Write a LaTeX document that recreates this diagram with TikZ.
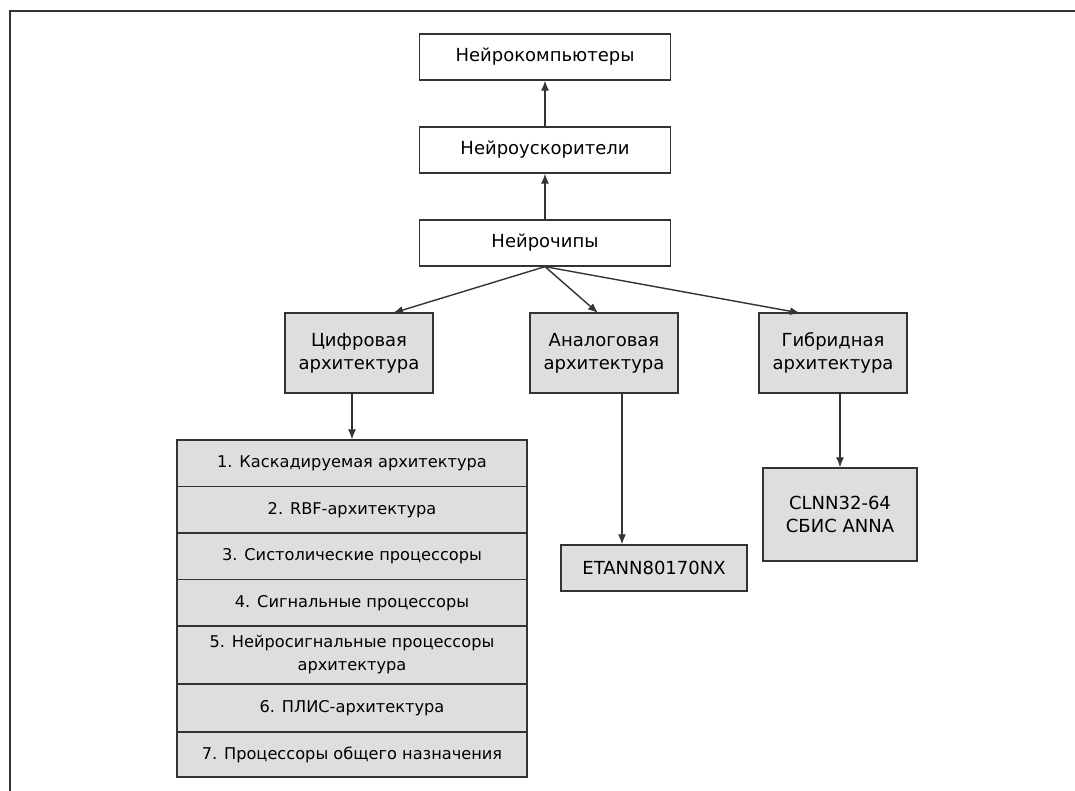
\documentclass[tikz,border=0pt]{standalone}
\usepackage{fontspec}
\setmainfont{DejaVu Sans}
\usetikzlibrary{arrows.meta}
\definecolor{boxgray}{HTML}{DEDEDE}
\definecolor{linegray}{HTML}{333333}

\begin{document}
\begin{tikzpicture}[
        x=1pt, y=-1pt,
        font=\fontsize{18}{23}\selectfont,
        level box/.style={
          draw=linegray, fill=white, line width=1.3pt,
          minimum width=251pt, minimum height=46pt, inner sep=0pt,
      },
        arch box/.style={
          draw=linegray, fill=boxgray, line width=1.3pt, align=center,
          minimum width=148pt, minimum height=80pt, inner sep=0pt,
      },
        list row/.style={
          draw=linegray, fill=boxgray, line width=1.3pt, align=center,
          minimum width=350pt, inner sep=0pt,
          font=\fontsize{16.2}{23}\selectfont,
      },
        up arrow/.style={
          draw=linegray, line width=1.4pt, -{Latex[length=10pt,width=8pt]},
      }]
      \useasboundingbox (0,0) rectangle (1075,791);
      \draw[linegray, line width=2pt] (10,791) -- (10,11) -- (1075,11);
      % top chain
      \node[level box] (comp) at (545,57) {Нейрокомпьютеры};
      \node[level box] (accel) at (545,150) {Нейроускорители};
      \node[level box] (chips) at (545,243) {Нейрочипы};
      \draw[up arrow] (accel) -- (comp);
      \draw[up arrow] (chips) -- (accel);
      % architectures
      \node[arch box] (digital) at (359,353) {Цифровая\\архитектура};
      \node[arch box] (analog) at (604,353) {Аналоговая\\архитектура};
      \node[arch box] (hybrid) at (833,353) {Гибридная\\архитектура};
      \draw[up arrow] (chips.south) -- (393,313);
      \draw[up arrow] (chips.south) -- (598,313);
      \draw[up arrow] (chips.south) -- (800,313);
      % digital list
      \node[list row, minimum height=47pt] (r1) at (352,463.5) {1. Каскадируемая архитектура};
      \node[list row, minimum height=47pt] (r2) at (352,510) {2. RBF-архитектура};
      \node[list row, minimum height=47pt] (r3) at (352,556.5) {3. Систолические процессоры};
      \node[list row, minimum height=47pt] (r4) at (352,603) {4. Сигнальные процессоры};
      \node[list row, minimum height=58pt] (r5) at (352,655) {5. Нейросигнальные процессоры\\архитектура};
      \node[list row, minimum height=48pt] (r6) at (352,708) {6. ПЛИС-архитектура};
      \node[list row, minimum height=45pt] (r7) at (352,754.5) {7. Процессоры общего назначения};
      \draw[up arrow] (digital.south -| r1.north) -- (r1.north);
      % analog and hybrid chips
      \node[arch box, minimum width=186pt, minimum height=46pt] (etann) at (654,568) {ETANN80170NX};
      \node[arch box, minimum width=154pt, minimum height=93pt] (clnn) at (840,514.5) {CLNN32-64\\СБИС ANNA};
      \coordinate (analog drop) at (622,0);
      \draw[up arrow] (analog.south -| analog drop) -- (etann.north -| analog drop);
      \draw[up arrow] (hybrid.south -| clnn.north) -- (clnn.north);
    \end{tikzpicture}
\end{document}
